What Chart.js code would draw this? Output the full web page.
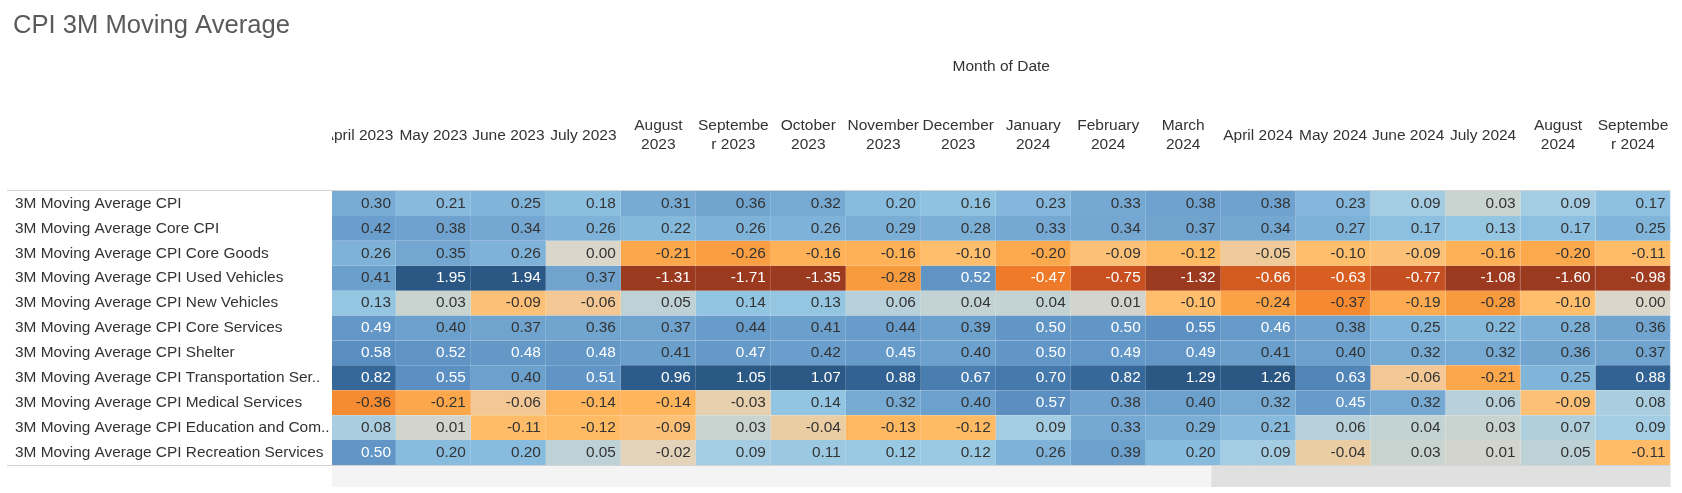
<!DOCTYPE html>
<html>
<head>
<meta charset="utf-8">
<script src="https://cdn.jsdelivr.net/npm/chart.js@4.4.1/dist/chart.umd.min.js"></script>
<style>
html,body{margin:0;padding:0;background:#fff;overflow:hidden}
canvas{display:block}
</style>
</head>
<body>
<canvas id="c" width="1682" height="493"></canvas>
<script>
// ---------- DATA ----------
const chartTitle = "CPI 3M Moving Average";
const axisTitle = "Month of Date";
const months = ["April 2023","May 2023","June 2023","July 2023","August 2023","September 2023","October 2023","November 2023","December 2023","January 2024","February 2024","March 2024","April 2024","May 2024","June 2024","July 2024","August 2024","September 2024"];
// header tick labels as displayed (wrapped)
const monthTickLabels = [["April 2023"],["May 2023"],["June 2023"],["July 2023"],["August","2023"],["Septembe","r 2023"],["October","2023"],["November","2023"],["December","2023"],["January","2024"],["February","2024"],["March","2024"],["April 2024"],["May 2024"],["June 2024"],["July 2024"],["August","2024"],["Septembe","r 2024"]];
const rowLabels = [
  "3M Moving Average CPI",
  "3M Moving Average Core CPI",
  "3M Moving Average CPI Core Goods",
  "3M Moving Average CPI Used Vehicles",
  "3M Moving Average CPI New Vehicles",
  "3M Moving Average CPI Core Services",
  "3M Moving Average CPI Shelter",
  "3M Moving Average CPI Transportation Ser..",
  "3M Moving Average CPI Medical Services",
  "3M Moving Average CPI Education and Com..",
  "3M Moving Average CPI Recreation Services"
];
const cpi            = [0.30,0.21,0.25,0.18,0.31,0.36,0.32,0.20,0.16,0.23,0.33,0.38,0.38,0.23,0.09,0.03,0.09,0.17];
const coreCpi        = [0.42,0.38,0.34,0.26,0.22,0.26,0.26,0.29,0.28,0.33,0.34,0.37,0.34,0.27,0.17,0.13,0.17,0.25];
const coreGoods      = [0.26,0.35,0.26,0.00,-0.21,-0.26,-0.16,-0.16,-0.10,-0.20,-0.09,-0.12,-0.05,-0.10,-0.09,-0.16,-0.20,-0.11];
const usedVehicles   = [0.41,1.95,1.94,0.37,-1.31,-1.71,-1.35,-0.28,0.52,-0.47,-0.75,-1.32,-0.66,-0.63,-0.77,-1.08,-1.60,-0.98];
const newVehicles    = [0.13,0.03,-0.09,-0.06,0.05,0.14,0.13,0.06,0.04,0.04,0.01,-0.10,-0.24,-0.37,-0.19,-0.28,-0.10,0.00];
const coreServices   = [0.49,0.40,0.37,0.36,0.37,0.44,0.41,0.44,0.39,0.50,0.50,0.55,0.46,0.38,0.25,0.22,0.28,0.36];
const shelter        = [0.58,0.52,0.48,0.48,0.41,0.47,0.42,0.45,0.40,0.50,0.49,0.49,0.41,0.40,0.32,0.32,0.36,0.37];
const transportation = [0.82,0.55,0.40,0.51,0.96,1.05,1.07,0.88,0.67,0.70,0.82,1.29,1.26,0.63,-0.06,-0.21,0.25,0.88];
const medical        = [-0.36,-0.21,-0.06,-0.14,-0.14,-0.03,0.14,0.32,0.40,0.57,0.38,0.40,0.32,0.45,0.32,0.06,-0.09,0.08];
const education      = [0.08,0.01,-0.11,-0.12,-0.09,0.03,-0.04,-0.13,-0.12,0.09,0.33,0.29,0.21,0.06,0.04,0.03,0.07,0.09];
const recreation     = [0.50,0.20,0.20,0.05,-0.02,0.09,0.11,0.12,0.12,0.26,0.39,0.20,0.09,-0.04,0.03,0.01,0.05,-0.11];

const seriesValues = [cpi, coreCpi, coreGoods, usedVehicles, newVehicles, coreServices, shelter, transportation, medical, education, recreation];

// ---------- STYLE ----------
const FONT = "'Liberation Sans', Arial, sans-serif";
const colorStops = [
  [-1.00,'#9c3a20'],[-0.77,'#c64f21'],[-0.65,'#d55c20'],[-0.47,'#ef7b2a'],[-0.37,'#f58a30'],
  [-0.28,'#f89b3e'],[-0.21,'#fca74b'],[-0.14,'#ffb55c'],[-0.10,'#ffbe6c'],[-0.06,'#f3c894'],
  [-0.04,'#ebcda3'],[-0.02,'#e2d3b9'],[0.00,'#dad6ca'],[0.01,'#d3d5cc'],[0.03,'#c9d4d1'],
  [0.05,'#bdd1d6'],[0.07,'#b0cfdc'],[0.09,'#a4cce2'],[0.13,'#94c6e2'],[0.20,'#88bcde'],
  [0.30,'#79acd4'],[0.40,'#6ca0cd'],[0.50,'#6296c6'],[0.58,'#5a8dc0'],[0.67,'#4a7eb1'],
  [0.82,'#36689a'],[0.95,'#2e5c8a'],[1.10,'#2a5783']
];
function hexRgb(h){return [parseInt(h.slice(1,3),16),parseInt(h.slice(3,5),16),parseInt(h.slice(5,7),16)];}
function rgbOf(v){
  if (v <= colorStops[0][0]) return hexRgb(colorStops[0][1]);
  const last = colorStops[colorStops.length-1];
  if (v >= last[0]) return hexRgb(last[1]);
  for (let i=0;i<colorStops.length-1;i++){
    const a=colorStops[i], b=colorStops[i+1];
    if (v>=a[0] && v<=b[0]){
      const t=(v-a[0])/(b[0]-a[0]); const ca=hexRgb(a[1]), cb=hexRgb(b[1]);
      return ca.map((c,k)=>Math.round(c+(cb[k]-c)*t));
    }
  }
  return [218,214,202];
}
function cellColor(v){const c=rgbOf(v);return `rgb(${c[0]},${c[1]},${c[2]})`;}
function cellBorder(v){const c=rgbOf(v).map(x=>Math.round(x+(255-x)*0.22));return `rgb(${c[0]},${c[1]},${c[2]})`;}

const cells = [];
seriesValues.forEach((vals, r) => vals.forEach((v, c) => cells.push({x: c, y: [r, r + 1], v: v})));

const cellText = {
  id: 'cellText',
  afterDatasetsDraw(chart) {
    const ctx = chart.ctx;
    const meta = chart.getDatasetMeta(0);
    ctx.save();
    ctx.font = `15.4px ${FONT}`;
    ctx.textAlign = 'right';
    ctx.textBaseline = 'middle';
    meta.data.forEach((el, i) => {
      const v = cells[i].v;
      const p = el.getProps(['x','y','base','width'], true);
      ctx.fillStyle = Math.abs(v) >= 0.45 ? '#ffffff' : '#333333';
      ctx.fillText(v.toFixed(2), p.x + p.width / 2 - 5, (p.y + p.base) / 2);
    });
    ctx.restore();
  }
};

const decor = {
  id: 'decor',
  afterDraw(chart) {
    const ctx = chart.ctx;
    const ca = chart.chartArea;
    const xs = chart.scales.x;
    ctx.save();
    // title
    ctx.fillStyle = '#5a5a5a';
    ctx.font = `25.6px ${FONT}`;
    ctx.textAlign = 'left';
    ctx.textBaseline = 'alphabetic';
    ctx.fillText(chartTitle, 13, 33);
    // axis title
    ctx.fillStyle = '#333333';
    ctx.font = `15.5px ${FONT}`;
    ctx.textAlign = 'center';
    ctx.fillText(axisTitle, (ca.left + ca.right) / 2, 71);
    // column headers (clipped to table width)
    ctx.save();
    ctx.beginPath();
    ctx.rect(ca.left, 0, ca.right - ca.left, ca.top);
    ctx.clip();
    monthTickLabels.forEach((lines, i) => {
      const x = xs.getPixelForValue(i);
      if (lines.length === 1) {
        ctx.fillText(lines[0], x, 139.5);
      } else {
        ctx.fillText(lines[0], x, 129.5);
        ctx.fillText(lines[1], x, 149);
      }
    });
    ctx.restore();
    // rules
    ctx.strokeStyle = '#d3d3d3';
    ctx.lineWidth = 1;
    ctx.beginPath();
    ctx.moveTo(7, ca.top - 0.5); ctx.lineTo(ca.right, ca.top - 0.5);
    ctx.moveTo(7, ca.bottom + 0.5); ctx.lineTo(ca.right, ca.bottom + 0.5);
    ctx.stroke();
    // horizontal scrollbar
    const sbTop = ca.bottom + 1, sbH = 21;
    ctx.fillStyle = '#f4f4f4';
    ctx.fillRect(ca.left, sbTop, ca.right - ca.left, sbH);
    const thumbStart = ca.left + (ca.right - ca.left) * 0.657;
    ctx.fillStyle = '#e0e0e0';
    ctx.fillRect(thumbStart, sbTop, ca.right - thumbStart, sbH);
    ctx.restore();
  }
};

new Chart(document.getElementById('c'), {
  type: 'bar',
  data: {
    datasets: [{
      data: cells,
      backgroundColor: ctx => cellColor(ctx.raw ? ctx.raw.v : 0),
      borderColor: ctx => cellBorder(ctx.raw ? ctx.raw.v : 0),
      borderWidth: {top: 0, bottom: 0, left: 0, right: 1},
      borderSkipped: false,
      barPercentage: 1,
      categoryPercentage: 1,
      clip: 0
    }]
  },
  options: {
    responsive: false,
    animation: false,
    devicePixelRatio: 1,
    layout: {padding: {left: 15, right: 11.5, top: 191, bottom: 28}},
    plugins: {legend: {display: false}, tooltip: {enabled: false}, title: {display: false}},
    scales: {
      x: {
        type: 'linear',
        min: -0.353,
        max: 17.5,
        offset: false,
        display: false,
        afterBuildTicks: s => { s.ticks = months.map((_, i) => ({value: i})); }
      },
      y: {
        type: 'linear',
        min: 0,
        max: 11,
        reverse: true,
        offset: false,
        grid: {display: false},
        border: {display: false},
        afterBuildTicks: s => { s.ticks = rowLabels.map((_, i) => ({value: i + 0.5})); },
        afterFit: s => { s.width = 317; },
        ticks: {
          autoSkip: false,
          crossAlign: 'far',
          padding: 0,
          color: '#333333',
          font: {family: FONT, size: 15.4},
          callback: v => rowLabels[Math.floor(v)]
        }
      }
    }
  },
  plugins: [cellText, decor]
});
</script>
</body>
</html>
